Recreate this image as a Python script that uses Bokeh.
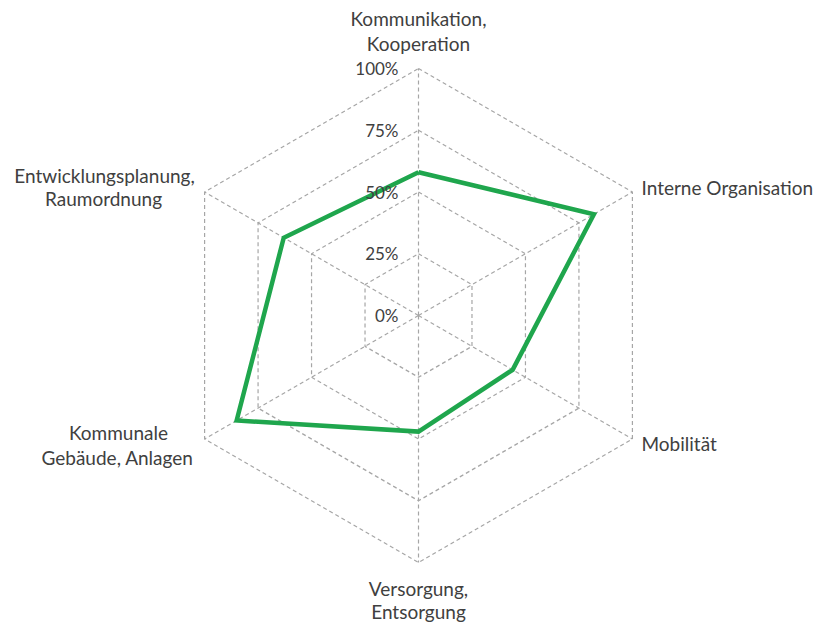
import math
from bokeh.plotting import figure
from bokeh.models import Range1d
from bokeh.core.properties import value
from bokeh.embed import file_html
from bokeh.resources import INLINE

categories = [["Kommunikation,", "Kooperation"], ["Interne Organisation"], ["Mobilität"],
              ["Versorgung,", "Entsorgung"], ["Kommunale", "Gebäude, Anlagen"],
              ["Entwicklungsplanung,", "Raumordnung"]]
values = [58, 82, 44, 47, 85, 63]
levels = [0, 25, 50, 75, 100]
level_labels = ["0%", "25%", "50%", "75%", "100%"]

W, H = 816, 624
PX = 2.47            # pixels per percent unit
CX, CY = 418, 315    # center in figure px (from left, from top)


def dxy(ix, iy):
    return (ix - CX) / PX, (CY - iy) / PX


p = figure(width=W, height=H, output_backend="svg", toolbar_location=None,
           x_range=Range1d(-CX / PX, (W - CX) / PX),
           y_range=Range1d(-(H - CY) / PX, CY / PX),
           min_border=0)
p.axis.visible = False
p.grid.visible = False
p.outline_line_color = None

n = len(categories)
angles = [math.pi / 2 - i * 2 * math.pi / n for i in range(n)]

grid_color = "#a6a6a6"
for lv in levels[1:]:
    xs = [lv * math.cos(a) for a in angles] + [lv * math.cos(angles[0])]
    ys = [lv * math.sin(a) for a in angles] + [lv * math.sin(angles[0])]
    p.line(xs, ys, line_color=grid_color, line_width=1.2, line_dash="4 3")
for a in angles:
    p.line([0, 100 * math.cos(a)], [0, 100 * math.sin(a)], line_color=grid_color,
           line_width=1.2, line_dash="4 3")

# data polygon
dx = [v * math.cos(a) for v, a in zip(values, angles)]
dy = [v * math.sin(a) for v, a in zip(values, angles)]
p.line(dx + [dx[0]], dy + [dy[0]], line_color="#1fa64d", line_width=4.5,
       line_join="miter")

font = value("Lato")
col = "#404040"

# level labels
p.text(x=[-20 / PX] * len(levels), y=levels, text=level_labels, text_align="right",
       text_baseline="middle", text_font=font, text_font_size="17px",
       text_color=col)

fs = "19px"
# (image px anchor for each line, alignment)
label_pos = [
    ([(418, 18), (418, 43)], "center"),
    ([(641, 187)], "left"),
    ([(641, 443)], "left"),
    ([(418, 588), (418, 611)], "center"),
    ([(118, 432), (117, 457)], "center"),
    ([(104, 175), (103, 198)], "center"),
]
for lines, (pts, align) in zip(categories, label_pos):
    for line, (ix, iy) in zip(lines, pts):
        x, y = dxy(ix, iy)
        p.text(x=[x], y=[y], text=[line], text_align=align, text_baseline="middle",
               text_font=font, text_font_size=fs, text_color=col)

open("out.html", "w").write(file_html(p, INLINE))
